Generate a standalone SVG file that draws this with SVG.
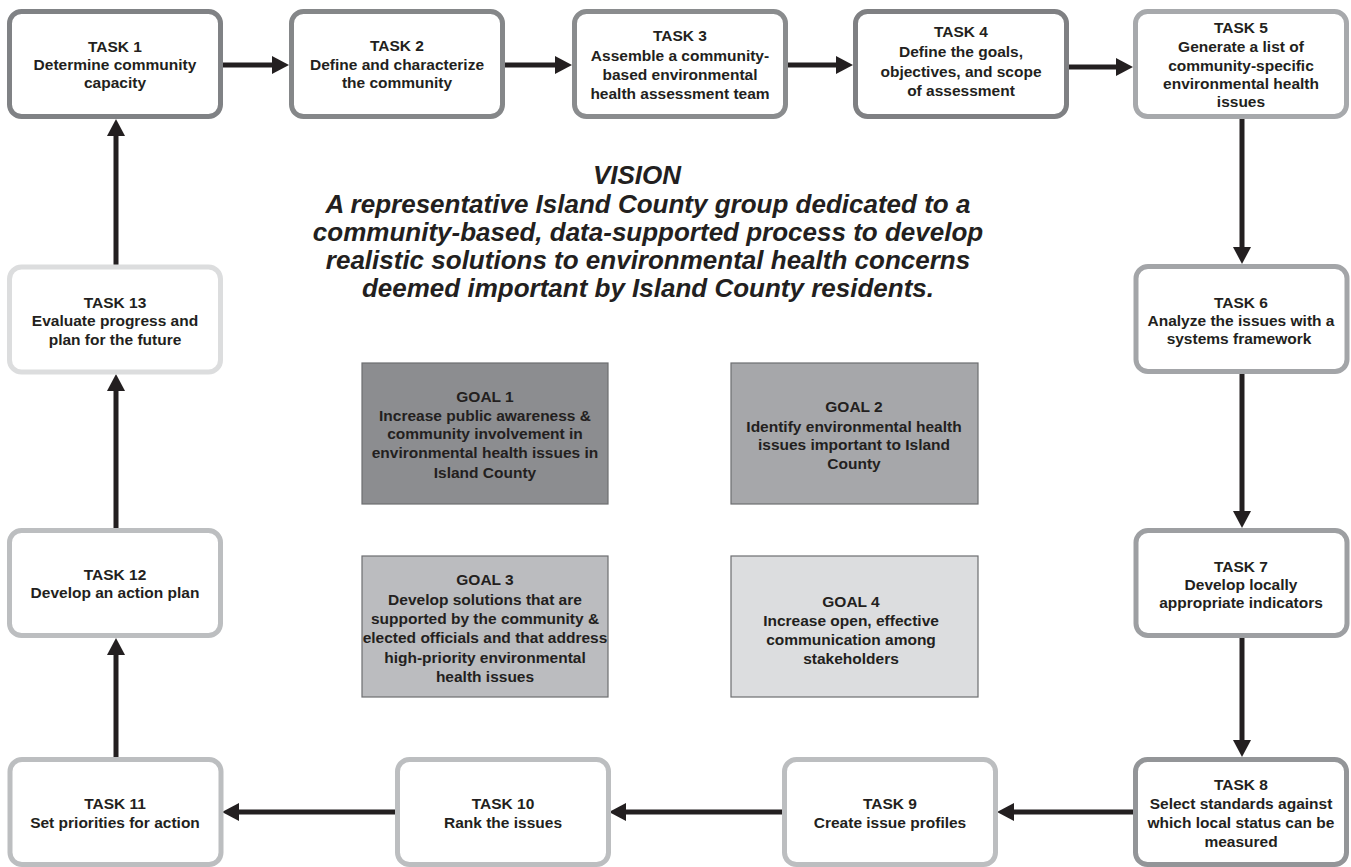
<svg xmlns="http://www.w3.org/2000/svg" width="1351" height="867" viewBox="0 0 1351 867">
<defs>
<style>
.task{fill:#ffffff;stroke-width:5}
.t{font-family:"Liberation Sans",Arial,sans-serif;font-weight:bold;font-size:15.5px;fill:#231f20;text-anchor:middle}
.goal{stroke:#6d6e71;stroke-width:1.2}
.vision{font-family:"Liberation Sans",Arial,sans-serif;font-weight:bold;font-style:italic;font-size:26px;fill:#231f20;text-anchor:middle}
.conn{stroke:#231f20;stroke-width:5;fill:none;marker-end:url(#ah)}
</style>
<marker id="ah" markerUnits="userSpaceOnUse" markerWidth="17" markerHeight="18" viewBox="0 0 17 18" refX="7" refY="9" orient="auto">
<path d="M0,0 L17,9 L0,18 z" fill="#231f20"/>
</marker>
</defs>
<rect width="1351" height="867" fill="#ffffff"/>

<g id="vision">
<text class="vision" x="637" y="184">VISION</text>
<text class="vision" x="648" y="213">A representative Island County group dedicated to a</text>
<text class="vision" x="648" y="241">community-based, data-supported process to develop</text>
<text class="vision" x="648" y="269">realistic solutions to environmental health concerns</text>
<text class="vision" x="648" y="297">deemed important by Island County residents.</text>
</g>

<g id="connectors">
<path class="conn" d="M223,65 H279"/>
<path class="conn" d="M504,65 H562"/>
<path class="conn" d="M787,65 H843"/>
<path class="conn" d="M1069,67 H1123"/>
<path class="conn" d="M1242,119 V254"/>
<path class="conn" d="M1242,373 V518"/>
<path class="conn" d="M1242,638 V747"/>
<path class="conn" d="M1133,812 H1007"/>
<path class="conn" d="M782,812 H619"/>
<path class="conn" d="M395,812 H232"/>
<path class="conn" d="M116,757 V648"/>
<path class="conn" d="M116,528 V384"/>
<path class="conn" d="M116,265 V129"/>
</g>

<g id="task1"><rect class="task" x="9.5" y="11.5" width="211" height="105" rx="12" stroke="#808285"/>
<text class="t" x="115" y="52">TASK 1</text><text class="t" x="115" y="70">Determine community</text><text class="t" x="115" y="88">capacity</text></g>

<g id="task2"><rect class="task" x="291.5" y="11.5" width="211" height="105" rx="12" stroke="#858789"/>
<text class="t" x="397" y="51">TASK 2</text><text class="t" x="397" y="70">Define and characterize</text><text class="t" x="397" y="88">the community</text></g>

<g id="task3"><rect class="task" x="574.5" y="11.5" width="211" height="105" rx="12" stroke="#8a8c8e"/>
<text class="t" x="680" y="41">TASK 3</text><text class="t" x="680" y="61">Assemble a community-</text><text class="t" x="680" y="80">based environmental</text><text class="t" x="680" y="99">health assessment team</text></g>

<g id="task4"><rect class="task" x="855.5" y="11.5" width="211" height="105" rx="12" stroke="#7f8083"/>
<text class="t" x="961" y="37">TASK 4</text><text class="t" x="961" y="57">Define the goals,</text><text class="t" x="961" y="77">objectives, and scope</text><text class="t" x="961" y="96">of assessment</text></g>

<g id="task5"><rect class="task" x="1135.5" y="11.5" width="211" height="105" rx="12" stroke="#a7a9ac"/>
<text class="t" x="1241" y="33">TASK 5</text><text class="t" x="1241" y="52">Generate a list of</text><text class="t" x="1241" y="71">community-specific</text><text class="t" x="1241" y="89">environmental health</text><text class="t" x="1241" y="107">issues</text></g>

<g id="task6"><rect class="task" x="1136" y="266.5" width="211" height="105" rx="12" stroke="#a3a5a8"/>
<text class="t" x="1241" y="308">TASK 6</text><text class="t" x="1241" y="326">Analyze the issues with a</text><text class="t" x="1239" y="344">systems framework</text></g>

<g id="task7"><rect class="task" x="1136" y="530.5" width="211" height="105" rx="12" stroke="#9d9fa2"/>
<text class="t" x="1241" y="572">TASK 7</text><text class="t" x="1241" y="590">Develop locally</text><text class="t" x="1241" y="608">appropriate indicators</text></g>

<g id="task8"><rect class="task" x="1135.5" y="759.5" width="211" height="105" rx="12" stroke="#939598"/>
<text class="t" x="1241" y="790">TASK 8</text><text class="t" x="1241" y="809">Select standards against</text><text class="t" x="1241" y="828">which local status can be</text><text class="t" x="1241" y="847">measured</text></g>

<g id="task9"><rect class="task" x="784.5" y="759.5" width="211" height="105" rx="12" stroke="#bcbec0"/>
<text class="t" x="890" y="809">TASK 9</text><text class="t" x="890" y="828">Create issue profiles</text></g>

<g id="task10"><rect class="task" x="397.5" y="759.5" width="211" height="105" rx="12" stroke="#bcbec0"/>
<text class="t" x="503" y="809">TASK 10</text><text class="t" x="503" y="828">Rank the issues</text></g>

<g id="task11"><rect class="task" x="10" y="759.5" width="211" height="105" rx="12" stroke="#bcbec0"/>
<text class="t" x="115" y="809">TASK 11</text><text class="t" x="115" y="828">Set priorities for action</text></g>

<g id="task12"><rect class="task" x="9.5" y="530.5" width="211" height="105" rx="12" stroke="#bcbec0"/>
<text class="t" x="115" y="580">TASK 12</text><text class="t" x="115" y="598">Develop an action plan</text></g>

<g id="task13"><rect class="task" x="9.5" y="267" width="211" height="105" rx="12" stroke="#dcddde"/>
<text class="t" x="115" y="308">TASK 13</text><text class="t" x="115" y="326">Evaluate progress and</text><text class="t" x="115" y="345">plan for the future</text></g>

<g id="goal1"><rect class="goal" x="362" y="363" width="246" height="141" fill="#8c8d90"/>
<text class="t" x="485" y="402">GOAL 1</text><text class="t" x="485" y="421">Increase public awareness &amp;</text><text class="t" x="485" y="439">community involvement in</text><text class="t" x="485" y="458">environmental health issues in</text><text class="t" x="485" y="478">Island County</text></g>

<g id="goal2"><rect class="goal" x="731" y="363" width="247" height="141" fill="#a6a7aa"/>
<text class="t" x="854" y="412">GOAL 2</text><text class="t" x="854" y="432">Identify environmental health</text><text class="t" x="854" y="450">issues important to Island</text><text class="t" x="854" y="469">County</text></g>

<g id="goal3"><rect class="goal" x="362" y="556" width="246" height="141" fill="#bbbcbf"/>
<text class="t" x="485" y="585">GOAL 3</text><text class="t" x="485" y="605">Develop solutions that are</text><text class="t" x="485" y="624">supported by the community &amp;</text><text class="t" x="485" y="643">elected officials and that address</text><text class="t" x="485" y="663">high-priority environmental</text><text class="t" x="485" y="682">health issues</text></g>

<g id="goal4"><rect class="goal" x="731" y="556" width="247" height="141" fill="#dcdddf"/>
<text class="t" x="851" y="607">GOAL 4</text><text class="t" x="851" y="626">Increase open, effective</text><text class="t" x="851" y="645">communication among</text><text class="t" x="851" y="664">stakeholders</text></g>
</svg>
